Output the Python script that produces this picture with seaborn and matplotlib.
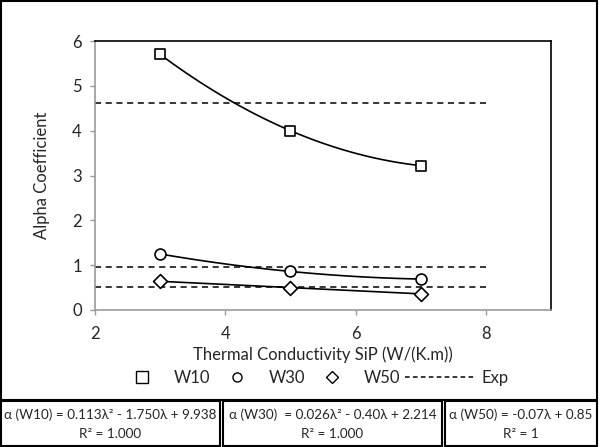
import numpy as np
import pandas as pd
import seaborn as sns
import matplotlib
matplotlib.use("Agg")
import matplotlib.pyplot as plt
from matplotlib.lines import Line2D
from matplotlib.patches import Rectangle

# ---- data ----
conductivity = [3, 5, 7]
w10 = [5.70, 4.00, 3.22]
w30 = [1.25, 0.86, 0.69]
w50 = [0.64, 0.50, 0.36]
exp_x = [2, 8]
exp_w10 = 4.62
exp_w30 = 0.95
exp_w50 = 0.51
series_names = ["W10", "W30", "W50"]
fit_degree = [2, 2, 1]
equations = [
    ("α (W10) = 0.113λ² - 1.750λ + 9.938", "R² = 1.000"),
    ("α (W30)  = 0.026λ² - 0.40λ + 2.214", "R² = 1.000"),
    ("α (W50) = -0.07λ + 0.85", "R² = 1"),
]
xticks = [2, 4, 6, 8]
yticks = [0, 1, 2, 3, 4, 5, 6]

sns.set_style("white")
plt.rcParams["font.family"] = ["Lato", "DejaVu Sans"]

W, H = 600, 447
fig = plt.figure(figsize=(W / 100, H / 100), dpi=100)

def fx(px):
    return px / W

def fy(py):
    return 1 - py / H

ax = fig.add_axes([fx(95), fy(310), fx(551) - fx(95), fy(41) - fy(310)])

df = pd.DataFrame({"x": conductivity * 3,
                   "y": w10 + w30 + w50,
                   "s": sum([[n] * 3 for n in series_names], [])})

markers = {"W10": "s", "W30": "o", "W50": "D"}
msize = {"W10": 62, "W30": 62, "W50": 50}

for name, deg in zip(series_names, fit_degree):
    sub = df[df.s == name]
    coef = np.polyfit(sub.x, sub.y, deg)
    xs = np.linspace(sub.x.min(), sub.x.max(), 60)
    sns.lineplot(x=xs, y=np.polyval(coef, xs), ax=ax, color="black", lw=1.2)
    sns.scatterplot(data=sub, x="x", y="y", ax=ax, marker=markers[name],
                    s=msize[name], facecolor="white", edgecolor="black",
                    linewidth=1.2, zorder=5)

for val in [exp_w10, exp_w30, exp_w50]:
    sns.lineplot(x=exp_x, y=[val, val], ax=ax, color="black", lw=1.1,
                 linestyle=(0, (4, 3)))

ax.set_xlim(2, 9)
ax.set_ylim(0, 6)
ax.set_xticks(xticks)
ax.set_yticks(yticks)
ax.tick_params(axis="both", labelsize=12, direction="out", length=3.5,
               color="#999999", width=1, left=True, bottom=True)
ax.tick_params(axis="x", pad=8)
ax.tick_params(axis="y", pad=6)
for side in ["left", "bottom"]:
    ax.spines[side].set_color("#999999")
    ax.spines[side].set_linewidth(1.2)
for side in ["top", "right"]:
    ax.spines[side].set_color("black")
    ax.spines[side].set_linewidth(1.2)
ax.set_xlabel("Thermal Conductivity SiP (W/(K.m))", fontsize=12, labelpad=3)
ax.set_ylabel("Alpha Coefficient", fontsize=12, labelpad=16)

marker_handles = [
    Line2D([], [], marker="s", color="black", lw=0, markerfacecolor="white", markersize=8),
    Line2D([], [], marker="o", color="black", lw=0, markerfacecolor="white", markersize=6.5),
    Line2D([], [], marker="D", color="black", lw=0, markerfacecolor="white", markersize=6.5),
]
exp_handle = [Line2D([], [], color="black", lw=1.1, linestyle=(0, (3, 2.2)))]
leg1 = fig.legend(marker_handles, series_names, loc="center", ncol=3,
                  bbox_to_anchor=(fx(266), fy(378)), frameon=False, fontsize=12,
                  handlelength=1.2, columnspacing=1.0, handletextpad=1.3)
leg2 = fig.legend(exp_handle, ["Exp"], loc="center", ncol=1,
                  bbox_to_anchor=(fx(457), fy(378)), frameon=False, fontsize=12,
                  handlelength=4.2, handletextpad=0.4)

# outer frame
fig.patches.append(Rectangle((fx(1), fy(400)), fx(597) - fx(1), fy(1) - fy(400),
                             transform=fig.transFigure, fill=False,
                             edgecolor="black", lw=1.5))
# equation boxes
boxes = [(1, 220), (223, 442), (445, 597)]
for (x0, x1), (l1, l2) in zip(boxes, equations):
    fig.patches.append(Rectangle((fx(x0), fy(446)), fx(x1) - fx(x0), fy(401) - fy(446),
                                 transform=fig.transFigure, fill=False,
                                 edgecolor="black", lw=1.5))
    cx = fx((x0 + x1) / 2)
    fig.text(cx, fy(415), l1, ha="center", va="center", fontsize=9.7)
    fig.text(cx, fy(434), l2, ha="center", va="center", fontsize=9.7)

fig.savefig("out.png", dpi=100)
